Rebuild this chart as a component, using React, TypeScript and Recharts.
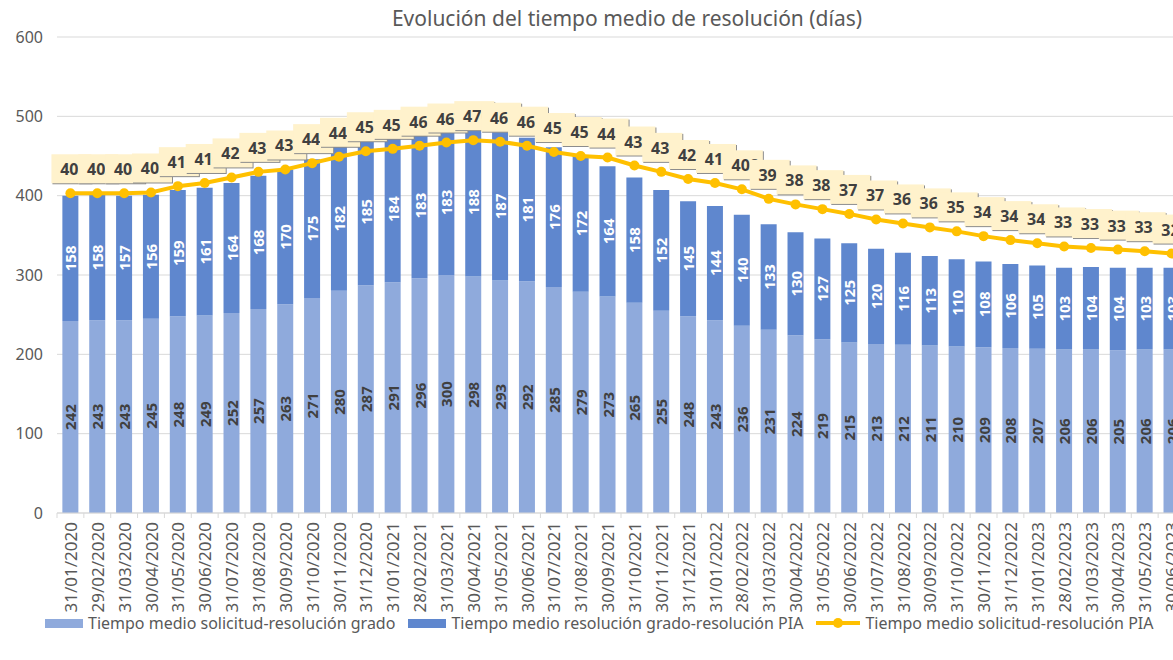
import React from 'react';
import {
  ComposedChart,
  Bar,
  Line,
  XAxis,
  YAxis,
  CartesianGrid,
  LabelList,
  Legend,
} from 'recharts';

// Fechas de corte mensuales
const fechas = [
  '31/01/2020', '29/02/2020', '31/03/2020', '30/04/2020', '31/05/2020', '30/06/2020',
  '31/07/2020', '31/08/2020', '30/09/2020', '31/10/2020', '30/11/2020', '31/12/2020',
  '31/01/2021', '28/02/2021', '31/03/2021', '30/04/2021', '31/05/2021', '30/06/2021',
  '31/07/2021', '31/08/2021', '30/09/2021', '31/10/2021', '30/11/2021', '31/12/2021',
  '31/01/2022', '28/02/2022', '31/03/2022', '30/04/2022', '31/05/2022', '30/06/2022',
  '31/07/2022', '31/08/2022', '30/09/2022', '31/10/2022', '30/11/2022', '31/12/2022',
  '31/01/2023', '28/02/2023', '31/03/2023', '30/04/2023', '31/05/2023', '30/06/2023',
];

// Tiempo medio solicitud-resolución grado (días)
const grado = [
  242, 243, 243, 245, 248, 249, 252, 257, 263, 271, 280, 287,
  291, 296, 300, 298, 293, 292, 285, 279, 273, 265, 255, 248,
  243, 236, 231, 224, 219, 215, 213, 212, 211, 210, 209, 208,
  207, 206, 206, 205, 206, 206,
];

// Tiempo medio resolución grado-resolución PIA (días)
const gradoPia = [
  158, 158, 157, 156, 159, 161, 164, 168, 170, 175, 182, 185,
  184, 183, 183, 188, 187, 181, 176, 172, 164, 158, 152, 145,
  144, 140, 133, 130, 127, 125, 120, 116, 113, 110, 108, 106,
  105, 103, 104, 104, 103, 103,
];

// Tiempo medio solicitud-resolución PIA (días)
const solicitudPia = [
  403, 403, 403, 404, 412, 416, 423, 430, 433, 441, 449, 456,
  459, 463, 467, 470, 468, 463, 455, 450, 448, 438, 430, 421,
  416, 408, 396, 389, 383, 377, 370, 365, 360, 355, 349, 344,
  340, 336, 334, 332, 330, 327,
];

const yTicks = [0, 100, 200, 300, 400, 500, 600];

const data = fechas.map((fecha, i) => ({
  fecha,
  grado: grado[i],
  gradoPia: gradoPia[i],
  solicitudPia: solicitudPia[i],
}));

const FONT = "'Noto Sans', sans-serif";
const GRIS = '#595959';
const AZUL_CLARO = '#8FAADC';
const AZUL = '#5F87CE';
const AMARILLO = '#FFC000';

const CHART_W = 1200;
const PLOT_LEFT = 57;
const PLOT_RIGHT = 1185;
const BAND = (PLOT_RIGHT - PLOT_LEFT) / fechas.length;

function FechaTick(props: any) {
  const { x, y, payload } = props;
  const tx = x - BAND / 2;
  return (
    <g>
      <line x1={tx} x2={tx} y1={y - 9} y2={y - 4} stroke="#d9d9d9" />
      <text
        x={x}
        y={y}
        transform={`rotate(-90, ${x}, ${y})`}
        textAnchor="end"
        dominantBaseline="central"
        fill={GRIS}
        fontSize={17}
        fontFamily={FONT}
      >
        {payload.value}
      </text>
    </g>
  );
}

const etiquetaBarra = (color: string) => (props: any) => {
  const { x, y, width, height, value } = props;
  const cx = x + width / 2;
  const cy = y + height / 2;
  return (
    <text
      x={cx}
      y={cy}
      transform={`rotate(-90, ${cx}, ${cy})`}
      textAnchor="middle"
      dominantBaseline="central"
      fill={color}
      fontSize={15}
      fontWeight="bold"
      fontFamily={FONT}
    >
      {value}
    </text>
  );
};

function CajaEtiqueta(props: any) {
  const { x, y, value } = props;
  return (
    <g>
      <rect x={x - 18} y={y - 38} width={40} height={29} fill="#8c8c8c" />
      <rect x={x - 19} y={y - 39} width={40} height={29} fill="#FFF2CC" />
      <text
        x={x + 3.5}
        y={y - 24}
        textAnchor="middle"
        dominantBaseline="central"
        fill="#404040"
        fontSize={16}
        fontWeight="bold"
        fontFamily={FONT}
      >
        {value}
      </text>
    </g>
  );
}

function Leyenda() {
  const texto: React.CSSProperties = { fontSize: 16, color: GRIS, fontFamily: FONT, whiteSpace: 'nowrap' };
  return (
    <div style={{ display: 'flex', alignItems: 'center', paddingLeft: 45, gap: 13 }}>
      <div style={{ display: 'flex', alignItems: 'center', gap: 5 }}>
        <div style={{ width: 38, height: 9, background: AZUL_CLARO }} />
        <span style={texto}>Tiempo medio solicitud-resolución grado</span>
      </div>
      <div style={{ display: 'flex', alignItems: 'center', gap: 5 }}>
        <div style={{ width: 38, height: 9, background: AZUL }} />
        <span style={texto}>Tiempo medio resolución grado-resolución PIA</span>
      </div>
      <div style={{ display: 'flex', alignItems: 'center', gap: 5 }}>
        <svg width={44} height={12}>
          <line x1={0} x2={44} y1={6} y2={6} stroke={AMARILLO} strokeWidth={4} />
          <circle cx={22} cy={6} r={5} fill={AMARILLO} />
        </svg>
        <span style={texto}>Tiempo medio solicitud-resolución PIA</span>
      </div>
    </div>
  );
}

export default function App() {
  return (
    <div
      style={{
        position: 'absolute',
        left: 0,
        top: 0,
        width: 1173,
        height: 660,
        overflow: 'hidden',
        background: '#fff',
      }}
    >
      <div
        style={{
          position: 'absolute',
          left: 0,
          top: 3,
          width: 1254,
          textAlign: 'center',
          fontSize: 21,
          color: GRIS,
          fontFamily: FONT,
          lineHeight: '30px',
        }}
      >
        Evolución del tiempo medio de resolución (días)
      </div>
      <ComposedChart
        width={CHART_W}
        height={660}
        data={data}
        margin={{ top: 37, right: CHART_W - PLOT_RIGHT, bottom: 47, left: 0 }}
        barCategoryGap="20%"
      >
        <CartesianGrid vertical={false} stroke="#d9d9d9" />
        <XAxis
          dataKey="fecha"
          interval={0}
          height={100}
          axisLine={{ stroke: '#d9d9d9' }}
          tickLine={false}
          tickSize={5}
          tickMargin={4}
          tick={<FechaTick />}
        />
        <YAxis
          domain={[0, 600]}
          ticks={yTicks}
          width={PLOT_LEFT}
          axisLine={false}
          tickLine={false}
          tickMargin={8}
          tick={{ fill: GRIS, fontSize: 16, fontFamily: FONT }}
        />
        <Legend
          verticalAlign="middle"
          align="center"
          wrapperStyle={{ top: 612, left: 0, width: 1173 }}
          content={() => <Leyenda />}
        />
        <Bar
          dataKey="grado"
          stackId="a"
          fill={AZUL_CLARO}
          name="Tiempo medio solicitud-resolución grado"
          isAnimationActive={false}
        >
          <LabelList dataKey="grado" content={etiquetaBarra('#404040')} />
        </Bar>
        <Bar
          dataKey="gradoPia"
          stackId="a"
          fill={AZUL}
          name="Tiempo medio resolución grado-resolución PIA"
          isAnimationActive={false}
        >
          <LabelList dataKey="gradoPia" content={etiquetaBarra('#ffffff')} />
        </Bar>
        <Line
          dataKey="solicitudPia"
          stroke={AMARILLO}
          strokeWidth={4}
          dot={{ r: 5, fill: AMARILLO, stroke: AMARILLO, strokeWidth: 0 }}
          name="Tiempo medio solicitud-resolución PIA"
          isAnimationActive={false}
        >
          <LabelList dataKey="solicitudPia" content={<CajaEtiqueta />} />
        </Line>
      </ComposedChart>
    </div>
  );
}
